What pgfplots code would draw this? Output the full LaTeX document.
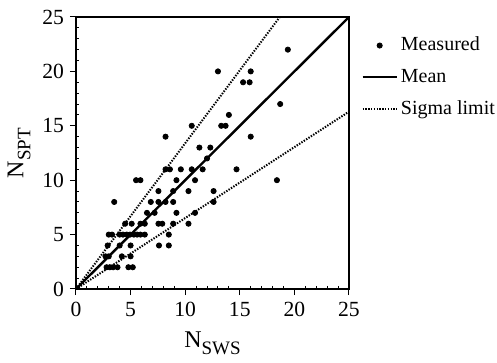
\documentclass[border=0pt]{standalone}
\usepackage{fontspec}
\setmainfont{Liberation Serif}
\usepackage{pgfplots}
\pgfplotsset{compat=1.18}
\begin{document}
\begin{tikzpicture}
\begin{axis}[
  scale only axis, width=136.5pt, height=136pt,
  xmin=0, xmax=25, ymin=0, ymax=25,
  xtick={0,5,...,25}, ytick={0,5,...,25},
  minor tick num=4,
  tick pos=left,
  tick align=outside,
  major tick length=3pt,
  minor tick length=-1.5pt,
  axis line style={line width=0.7pt},
  every tick/.style={black, line width=0.5pt},
  /pgf/number format/assume math mode=true,
  ticklabel style={font=\fontsize{10.8}{12}\selectfont},
  yticklabel style={xshift=0.5pt},
  xlabel={\fontsize{12}{13}\selectfont N\raisebox{-3.5pt}{\fontsize{9.5}{10}\selectfont SWS}},
  ylabel={\fontsize{12}{13}\selectfont N\raisebox{-3.5pt}{\fontsize{9.5}{10}\selectfont SPT}},
  xlabel style={yshift=-0.5pt},
  ylabel style={yshift=-1pt},
  legend cell align=left,
  legend style={draw=none, fill=none, at={(1.022,0.957)}, anchor=north west,
    font=\fontsize{10}{11}\selectfont, row sep=3.6pt,
    nodes={inner xsep=1.5pt}},
]
\addplot[only marks, mark=*, mark size=1.3pt, black] coordinates {
(19.4,22)
(13.0,20) (16.0,20)
(15.3,19) (15.9,19)
(18.7,17)
(14.0,16)
(10.6,15) (13.3,15) (13.7,15)
(8.2,14) (16.0,14)
(11.3,13) (12.3,13)
(12.0,12)
(8.2,11) (8.6,11) (9.6,11) (10.6,11) (11.6,11) (14.7,11)
(5.5,10) (5.9,10) (9.2,10) (10.9,10) (18.4,10)
(7.55,9) (8.9,9) (10.3,9) (12.6,9)
(3.5,8) (6.85,8) (7.55,8) (8.2,8) (8.9,8) (12.6,8)
(6.5,7) (7.2,7) (9.2,7) (10.9,7)
(4.5,6) (5.1,6) (5.9,6) (6.3,6) (7.55,6) (7.9,6) (8.9,6) (10.3,6)
(3.0,5) (3.3,5) (4.0,5) (4.3,5) (4.65,5) (4.95,5) (5.3,5) (5.6,5) (5.9,5) (6.3,5) (8.5,5)
(2.9,4) (4.0,4) (5.0,4) (7.6,4) (8.5,4)
(2.7,3) (3.0,3) (4.2,3) (5.0,3)
(2.8,2) (3.1,2) (3.4,2) (3.8,2) (4.8,2) (5.2,2)
};
\addlegendentry{Measured}
\addplot[black, line width=1.2pt] coordinates {(0,0) (25,25)};
\addlegendentry{Mean}
\addplot[black, line width=1pt, dash pattern=on 0.7pt off 0.7pt] coordinates {(0,0) (18.66,25)};
\addlegendentry{Sigma limit}
\addplot[black, line width=1pt, dash pattern=on 0.7pt off 0.7pt, forget plot] coordinates {(0,0) (25,16.3)};
\end{axis}
\pgfresetboundingbox
\path[use as bounding box] ([shift={(-38pt,-37pt)}]current axis.south west) rectangle ([shift={(74pt,8.5pt)}]current axis.north east);
\end{tikzpicture}
\end{document}
